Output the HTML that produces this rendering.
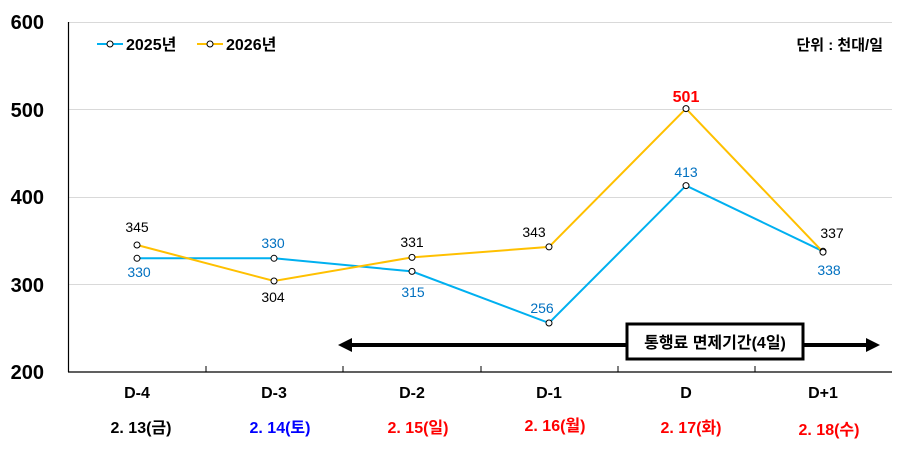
<!DOCTYPE html>
<html><head><meta charset="utf-8"><style>
html,body{margin:0;padding:0;background:#fff}
svg{display:block;font-family:"Liberation Sans","Noto Sans CJK KR",sans-serif}
</style></head><body>
<svg width="908" height="449" viewBox="0 0 908 449" xmlns="http://www.w3.org/2000/svg">
<g stroke="#d9d9d9" stroke-width="1">
<line x1="68" y1="22.5" x2="892" y2="22.5"/>
<line x1="68" y1="109.5" x2="892" y2="109.5"/>
<line x1="68" y1="197.5" x2="892" y2="197.5"/>
<line x1="68" y1="284.5" x2="892" y2="284.5"/>
</g>
<line x1="68.5" y1="22" x2="68.5" y2="372" stroke="#000" stroke-width="1.2"/>
<line x1="68" y1="372" x2="892" y2="372" stroke="#000" stroke-width="1.2"/>
<g stroke="#000" stroke-width="1">
<line x1="206" y1="366" x2="206" y2="372"/><line x1="343" y1="366" x2="343" y2="372"/>
<line x1="481" y1="366" x2="481" y2="372"/><line x1="618" y1="366" x2="618" y2="372"/>
<line x1="755" y1="366" x2="755" y2="372"/>
</g>
<g font-size="20" font-weight="bold" text-anchor="end" fill="#000">
<text x="44" y="29">600</text><text x="44" y="117">500</text><text x="44" y="204">400</text><text x="44" y="292">300</text><text x="44" y="379">200</text>
</g>
<!-- legend -->
<line x1="97" y1="44" x2="123" y2="44" stroke="#00b0f0" stroke-width="2"/>
<circle cx="110" cy="44" r="3" fill="#fff" stroke="#000" stroke-width="1"/>
<text x="126" y="50" font-size="16" font-weight="bold">2025년</text>
<line x1="197" y1="44" x2="223" y2="44" stroke="#ffc000" stroke-width="2"/>
<circle cx="210" cy="44" r="3" fill="#fff" stroke="#000" stroke-width="1"/>
<text x="226" y="50" font-size="16" font-weight="bold">2026년</text>
<text x="883" y="50" font-size="15" font-weight="bold" text-anchor="end">단위 : 천대/일</text>
<!-- arrow -->
<line x1="350" y1="345" x2="866" y2="345" stroke="#000" stroke-width="4"/>
<polygon points="338,345 352,338 352,352" fill="#000"/>
<polygon points="880,345 866,338 866,352" fill="#000"/>
<rect x="627" y="324" width="176" height="35" fill="#fff" stroke="#000" stroke-width="3"/>
<text x="715" y="348" font-size="16" font-weight="bold" text-anchor="middle">통행료 면제기간(4일)</text>
<!-- series -->
<polyline points="137,258.3 274,258.3 412,271.4 549,323 686,185.6 823,251.3" fill="none" stroke="#00b0f0" stroke-width="2"/>
<polyline points="137,245 274,281 412,257.4 549,246.9 686,108.6 823,252.1" fill="none" stroke="#ffc000" stroke-width="2"/>
<g fill="#fff" stroke="#000" stroke-width="1">
<circle cx="137" cy="258.3" r="3"/><circle cx="274" cy="258.3" r="3"/><circle cx="412" cy="271.4" r="3"/><circle cx="549" cy="323" r="3"/><circle cx="686" cy="185.6" r="3"/><circle cx="823" cy="251.3" r="3"/>
<circle cx="137" cy="245" r="3"/><circle cx="274" cy="281" r="3"/><circle cx="412" cy="257.4" r="3"/><circle cx="549" cy="246.9" r="3"/><circle cx="686" cy="108.6" r="3"/><circle cx="823" cy="252.1" r="3"/>
</g>
<g font-size="14" text-anchor="middle">
<g fill="#0070c0">
<text x="139" y="277">330</text><text x="273" y="248">330</text><text x="413" y="297">315</text><text x="542" y="313">256</text><text x="686" y="177">413</text><text x="829" y="275">338</text>
</g>
<g fill="#000">
<text x="137" y="232">345</text><text x="273" y="302">304</text><text x="412" y="247">331</text><text x="534" y="237">343</text><text x="832" y="238">337</text>
</g>
<text x="686" y="102" fill="#ff0000" font-size="16" font-weight="bold">501</text>
</g>
<g font-size="16" font-weight="bold" text-anchor="middle">
<text x="137" y="398">D-4</text><text x="274" y="398">D-3</text><text x="412" y="398">D-2</text><text x="549" y="398">D-1</text><text x="686" y="398">D</text><text x="823" y="398">D+1</text>
<text x="141" y="433" fill="#000">2. 13(금)</text>
<text x="280" y="433" fill="#0000ff">2. 14(토)</text>
<text x="418" y="433" fill="#ff0000">2. 15(일)</text>
<text x="555" y="431" fill="#ff0000">2. 16(월)</text>
<text x="691" y="433" fill="#ff0000">2. 17(화)</text>
<text x="829" y="435" fill="#ff0000">2. 18(수)</text>
</g>
</svg>
</body></html>
